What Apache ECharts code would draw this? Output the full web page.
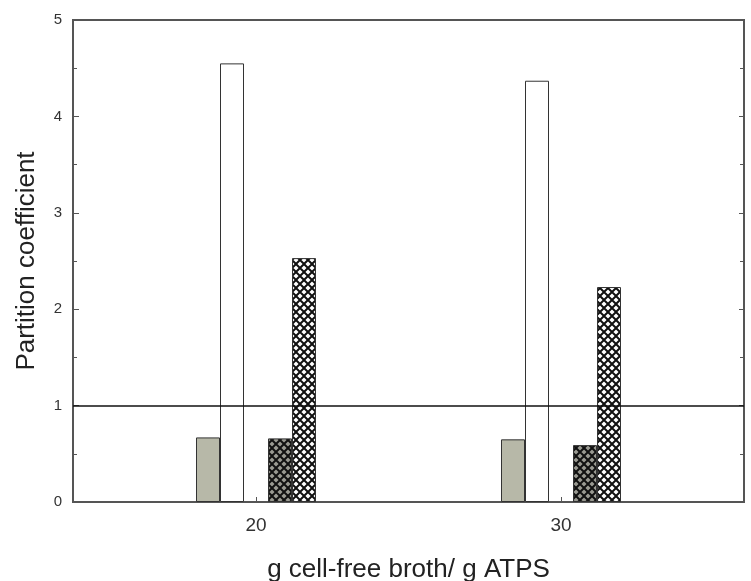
<!DOCTYPE html>
<html>
<head>
<meta charset="utf-8">
<script src="https://cdn.jsdelivr.net/npm/echarts@6/dist/echarts.min.js"></script>
<style>
  html, body { margin: 0; padding: 0; background: #fff; }
  #chart { width: 751px; height: 581px; }
</style>
</head>
<body>
<div id="chart"></div>
<script>
// x positions as categories, only 20 and 30 carry bars
var xCats = ['14', '16', '18', '20', '22', '24', '26', '28', '30', '32', '34', '36'];
var shown = ['20', '30'];
var grayVals = [0.67, 0.65];
var whiteVals = [4.55, 4.37];
var darkVals = [0.66, 0.59];
var lightVals = [2.53, 2.23];
var refLine = 1;

function pairs(vals) {
  return shown.map(function (c, i) { return [c, vals[i]]; });
}

// crosshatch pattern tile
function hatch(bg) {
  var c = document.createElement('canvas');
  c.width = 8; c.height = 8;
  var ctx = c.getContext('2d');
  ctx.fillStyle = bg;
  ctx.fillRect(0, 0, 8, 8);
  ctx.strokeStyle = '#111';
  ctx.lineWidth = 2;
  [-8, 0, 8].forEach(function (d) {
    ctx.beginPath();
    ctx.moveTo(d, 0); ctx.lineTo(d + 8, 8);
    ctx.moveTo(d + 8, 0); ctx.lineTo(d, 8);
    ctx.stroke();
  });
  return { image: c, repeat: 'repeat' };
}

var tickShow = function (idx, val) { return shown.indexOf(val) >= 0; };
var border = { borderColor: '#333', borderWidth: 1 };

var chart = echarts.init(document.getElementById('chart'));
chart.setOption({
  animation: false,
  backgroundColor: '#fff',
  textStyle: { fontFamily: 'Liberation Sans, Arial, sans-serif' },
  grid: {
    left: 73, right: 7, top: 20, bottom: 79,
    outerBoundsMode: 'none', containLabel: false,
    show: true, borderColor: '#555', borderWidth: 2
  },
  xAxis: {
    type: 'category',
    data: xCats,
    boundaryGap: false,
    axisLine: { show: false },
    axisTick: { show: true, inside: true, length: 5, interval: tickShow, lineStyle: { color: '#555' } },
    axisLabel: { interval: tickShow, color: '#333', fontSize: 19, margin: 14 },
    splitLine: { show: false },
    name: 'g cell-free broth/ g ATPS',
    nameLocation: 'middle',
    nameGap: 55,
    nameTextStyle: { fontSize: 26, color: '#222' }
  },
  yAxis: [{
    type: 'value',
    min: 0, max: 5, interval: 1,
    axisLine: { show: false },
    axisTick: { show: true, inside: true, length: 6, lineStyle: { color: '#555' } },
    minorTick: { show: true, splitNumber: 2, length: 4, lineStyle: { color: '#555' } },
    axisLabel: { color: '#333', fontSize: 15, margin: 11 },
    splitLine: { show: false },
    name: 'Partition coefficient',
    nameLocation: 'middle',
    nameGap: 33,
    nameTextStyle: { fontSize: 26, color: '#222' }
  }, {
    type: 'value',
    position: 'right',
    min: 0, max: 5, interval: 1,
    axisLine: { show: false },
    axisTick: { show: true, inside: true, length: 5, lineStyle: { color: '#555' } },
    minorTick: { show: true, splitNumber: 2, length: 4, lineStyle: { color: '#555' } },
    axisLabel: { show: false },
    splitLine: { show: false }
  }],
  series: [{
    type: 'bar', barWidth: 24, barGap: 0,
    data: pairs(grayVals),
    itemStyle: Object.assign({ color: '#b7b8a8' }, border),
    markLine: {
      silent: true, symbol: 'none', label: { show: false },
      lineStyle: { color: '#111', width: 1.5, type: 'solid' },
      data: [{ yAxis: refLine }]
    }
  }, {
    type: 'bar', barWidth: 24, barGap: 0,
    data: pairs(whiteVals),
    itemStyle: Object.assign({ color: '#fff' }, border)
  }, {
    type: 'bar', barWidth: 24, barGap: 0,
    data: []
  }, {
    type: 'bar', barWidth: 24, barGap: 0,
    data: pairs(darkVals),
    itemStyle: Object.assign({ color: hatch('#9a9a92') }, border)
  }, {
    type: 'bar', barWidth: 24, barGap: 0,
    data: pairs(lightVals),
    itemStyle: Object.assign({ color: hatch('#fff') }, border)
  }]
});
</script>
</body>
</html>
